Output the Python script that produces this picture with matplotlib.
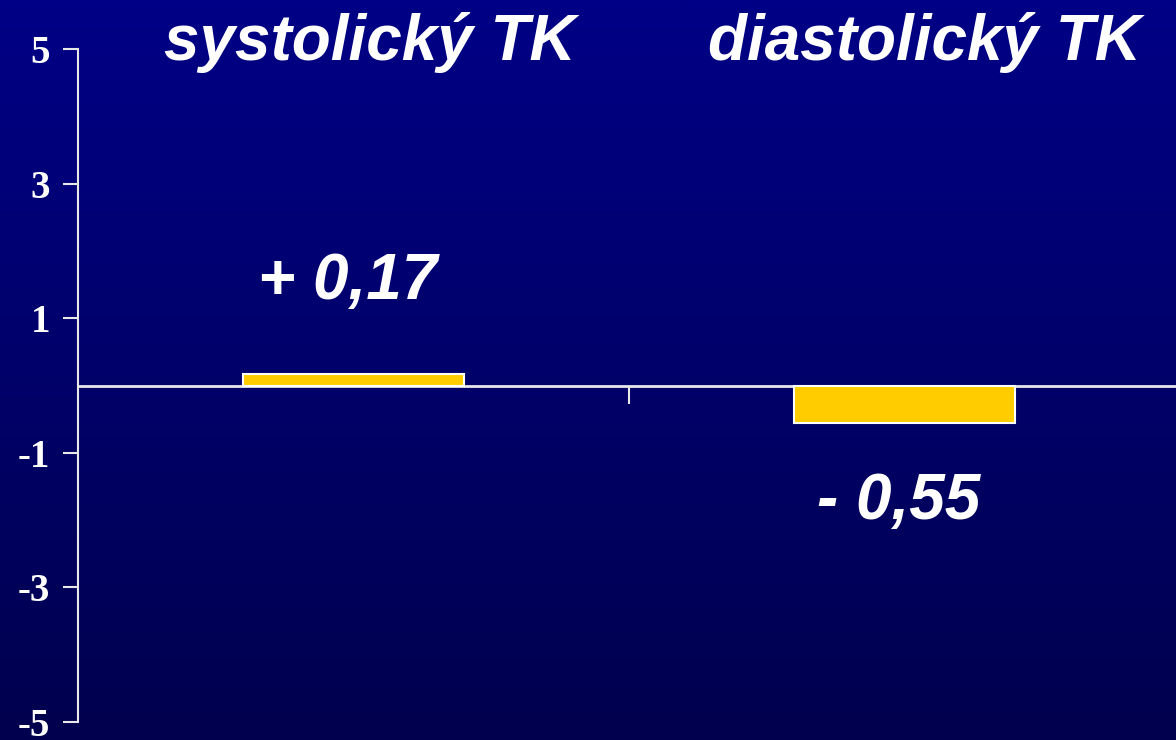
import numpy as np
import matplotlib
matplotlib.use("Agg")
from matplotlib import pyplot as plt
from matplotlib.colors import LinearSegmentedColormap

# change of blood pressure (mm Hg)
categories = ["systolický TK", "diastolický TK"]
values = [0.17, -0.55]
value_labels = ["+ 0,17", "- 0,55"]
yticks = [5, 3, 1, -1, -3, -5]

fig = plt.figure(figsize=(11.76, 7.4), dpi=100)

# navy gradient background
bg = fig.add_axes([0, 0, 1, 1], zorder=-10)
grad = np.linspace(0, 1, 256).reshape(-1, 1)
cmap = LinearSegmentedColormap.from_list("bg", ["#000086", "#00004e"])
bg.imshow(grad, aspect="auto", cmap=cmap, extent=[0, 1, 0, 1])
bg.axis("off")

ax = fig.add_axes([0.0663, 0.0243, 0.937, 0.9095])
ax.patch.set_alpha(0)

x = np.arange(len(categories))
ax.bar(x, values, width=0.4, color="#ffcc00", edgecolor="white", linewidth=1.5, zorder=3)

ax.set_xlim(-0.5, 1.5)
ax.set_ylim(-5, 5)

for s in ["top", "right"]:
    ax.spines[s].set_visible(False)
ax.spines["left"].set_color("#e8e8e8")
ax.spines["left"].set_linewidth(1.5)
ax.spines["bottom"].set_position(("data", 0))
ax.spines["bottom"].set_color("#e8e8e8")
ax.spines["bottom"].set_linewidth(2)

ax.set_yticks(yticks)
ax.set_yticklabels([str(v) for v in yticks], family="Liberation Serif",
                   fontweight="bold", fontsize=28, color="white")
ax.tick_params(axis="y", colors="#e8e8e8", length=11, width=1.5, pad=9,
               labelcolor="white")
ax.set_xticks([0.5])
ax.set_xticklabels([""])
ax.tick_params(axis="x", colors="#e8e8e8", length=13, width=1.5, direction="out")

# category titles
title_x = [0.03, 1.037]
for xi, name in zip(title_x, categories):
    ax.text(xi, 4.84, name, ha="center", va="baseline", color="white",
            family="Liberation Sans", fontweight="bold", style="italic", fontsize=46)

# value annotations
label_y = [1.29, -1.99]
for xi, lab, ly in zip(x, value_labels, label_y):
    ax.text(xi - 0.01, ly, lab, ha="center", va="baseline", color="white",
            family="Liberation Sans", fontweight="bold", style="italic", fontsize=46)

fig.savefig("out.png", dpi=100)
